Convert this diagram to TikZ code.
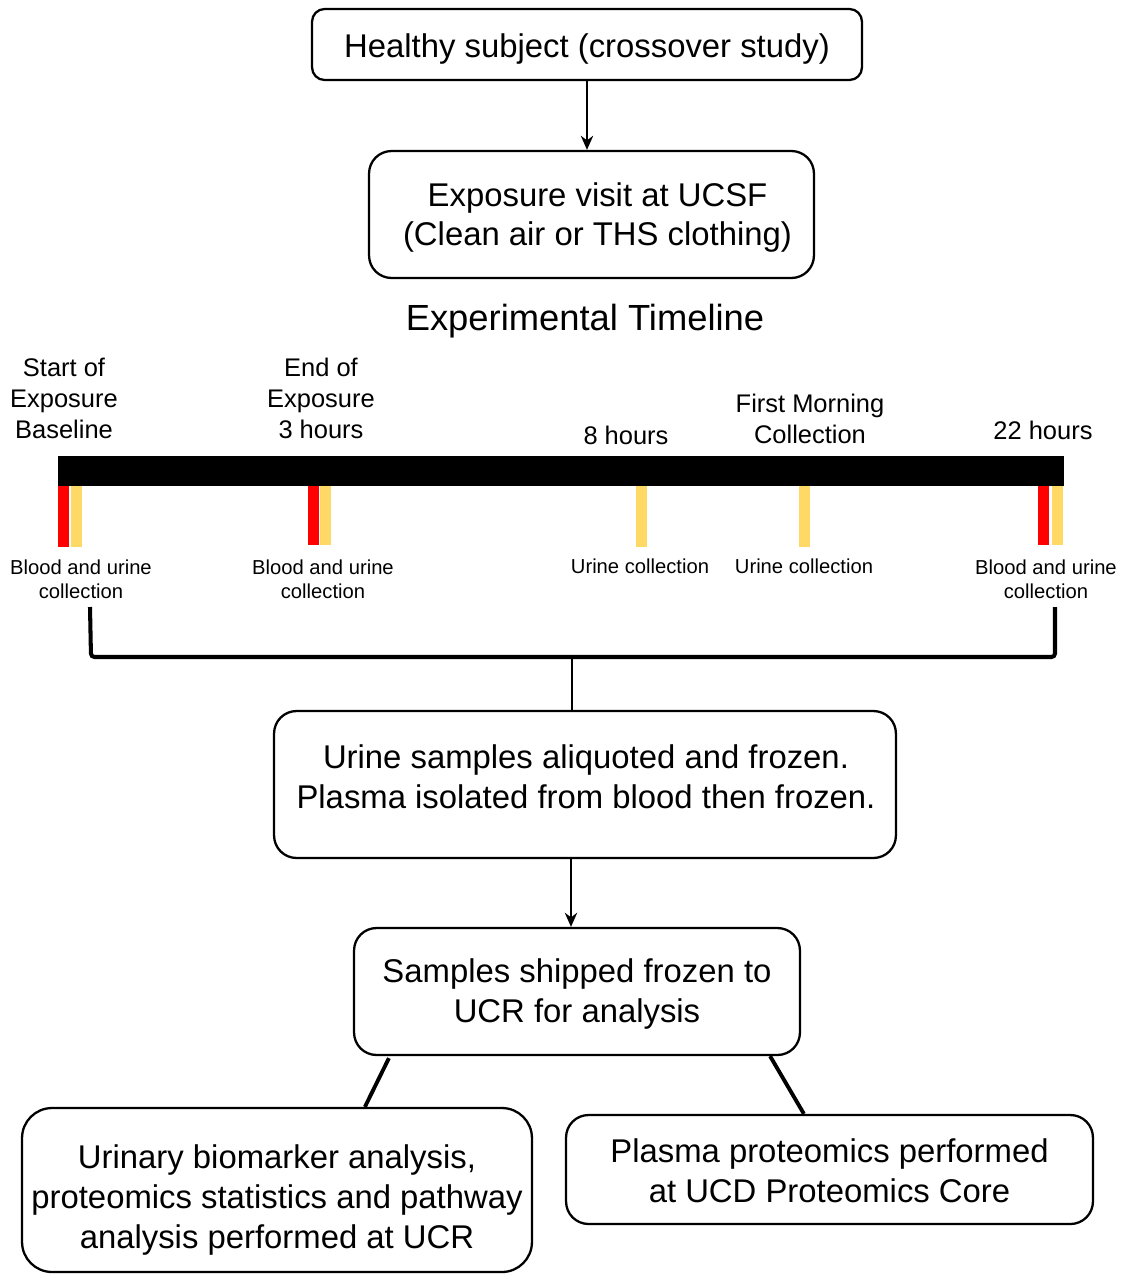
\documentclass[tikz,border=0pt]{standalone}
\usepackage{fontspec}
\setmainfont{Liberation Sans}
\usetikzlibrary{calc,arrows.meta}
\definecolor{urineyellow}{HTML}{FFD966}

\begin{document}
\begin{tikzpicture}[x=0.02cm, y=-0.02cm,
		box/.style={draw, line width=1.3pt, rounded corners=0.45cm, inner sep=0pt},
		btext/.style={align=center, inner sep=0pt, font=\fontsize{18.7}{22.7}\selectfont},
		tlabel/.style={align=center, inner sep=0pt, font=\fontsize{14.5}{17.6}\selectfont},
		slabel/.style={align=center, inner sep=0pt, font=\fontsize{11.5}{13.6}\selectfont},
		flow/.style={-{Stealth[length=8pt, width=7pt]}, line width=1.3pt},
		link/.style={line width=2.2pt},
		brace/.style={line width=2.3pt, rounded corners=2pt},
		blood/.style={fill=red},
		urine/.style={fill=urineyellow}]
		%%%%% START %%%%%
		
		\useasboundingbox (0, 0) rectangle (1125, 1275);
		
		\node[box, rounded corners=0.25cm, minimum width=11cm, minimum height=1.42cm] (subj) at (587, 44.5) {};
		\node[btext] (subj-t) at (587, 49.5) {Healthy subject (crossover study)};
		\node[box, minimum width=8.9cm, minimum height=2.54cm] (visit) at (591.5, 214.5) {};
		\node[btext] (visit-t) at (597.5, 217.5) {Exposure visit at UCSF\\(Clean air or THS clothing)};
		\draw[flow] (subj) -- (subj |- visit.north);
		
		\node[inner sep=0pt, font=\fontsize{20.7}{24}\selectfont] (title) at (585, 321) {Experimental Timeline};
		
		% timeline bar
		\fill[black] (58, 456) rectangle (1064, 486);
		
		\fill[blood] (58, 486) rectangle (68.5, 547);
		\fill[urine] (71, 486) rectangle (81.5, 547);
		\fill[blood] (308, 486) rectangle (318.5, 545);
		\fill[urine] (320, 486) rectangle (331, 545);
		\fill[urine] (636, 486) rectangle (646.5, 547);
		\fill[urine] (798.5, 486) rectangle (809.5, 547);
		\fill[blood] (1038, 486) rectangle (1049, 545);
		\fill[urine] (1052, 486) rectangle (1063, 545);
		
		\node[tlabel] (start) at (64, 398) {Start of\\Exposure\\Baseline};
		\node[tlabel] (end) at (321, 398) {End of\\Exposure\\3 hours};
		\node[tlabel] (eight) at (626, 435) {8 hours};
		\node[tlabel] (morn) at (810, 419) {First Morning\\Collection};
		\node[tlabel] (late) at (1043, 430) {22 hours};
		
		\node[slabel] (c1) at (81, 579) {Blood and urine\\collection};
		\node[slabel] (c2) at (323, 579) {Blood and urine\\collection};
		\node[slabel] (c3) at (640, 566) {Urine collection};
		\node[slabel] (c4) at (804, 566) {Urine collection};
		\node[slabel] (c5) at (1046, 579) {Blood and urine\\collection};
		
		\node[box, minimum width=12.44cm, minimum height=2.94cm] (samp) at (585, 784.5) {};
		\node[btext] (samp-t) at (586, 777) {Urine samples aliquoted and frozen.\\Plasma isolated from blood then frozen.};
		
		% bracket joining the collections
		\coordinate (bl) at (90, 607);
		\coordinate (br) at (1055, 607);
		\draw[brace] (bl) -- ++(1, 50) -| (br);
		\draw[line width=1.3pt] (samp.north -| 572, 0) -- (572, 657);
		
		\node[box, minimum width=8.92cm, minimum height=2.54cm] (ship) at (577, 991.5) {};
		\node[btext] (ship-t) at (577, 994) {Samples shipped frozen to\\UCR for analysis};
		\draw[flow] (samp.south -| 571, 0) -- (ship.north -| 571, 0);
		
		\node[box, rounded corners=0.6cm, minimum width=10.2cm, minimum height=3.28cm] (urin) at (277, 1190) {};
		\node[btext] (urin-t) at (277, 1200) {Urinary biomarker analysis,\\proteomics statistics and pathway\\analysis performed at UCR};
		\node[box, minimum width=10.54cm, minimum height=2.18cm] (plas) at (829.5, 1169.5) {};
		\node[btext] (plas-t) at (829.5, 1170.5) {Plasma proteomics performed\\at UCD Proteomics Core};
		
		\draw[link] ($(ship.south west)+(36, 2)$) -- ($(urin.north west)+(344, 0)$);
		\draw[link] ($(ship.south east)+(-31, 0)$) -- ($(plas.north west)+(239, 0)$);
		
		%%%%% END %%%%%
	\end{tikzpicture}
\end{document}
